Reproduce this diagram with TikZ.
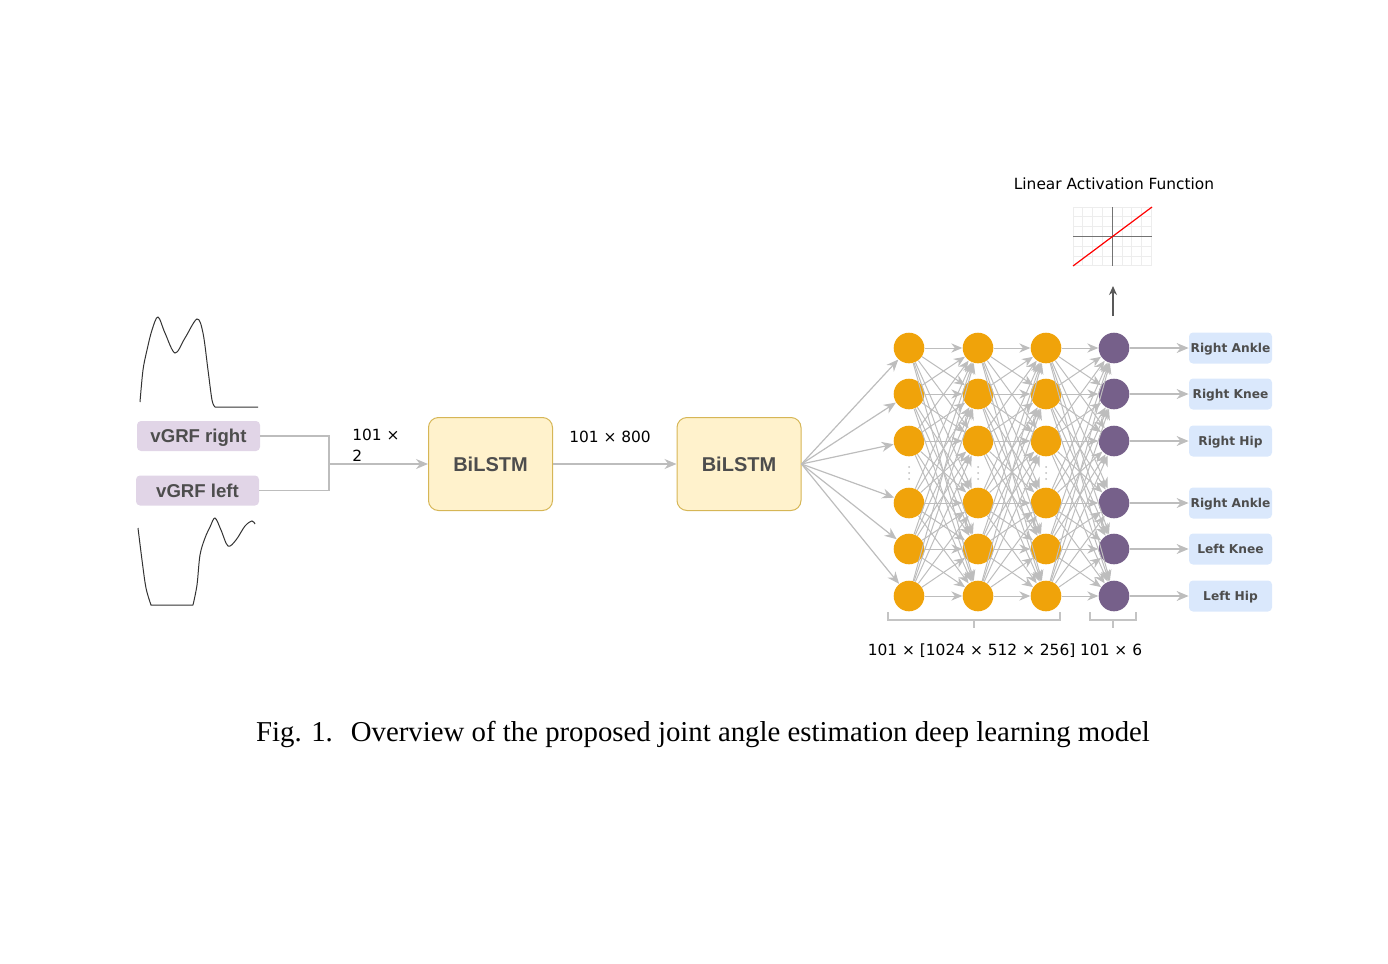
\documentclass[tikz,border=0pt]{standalone}
\usepackage{fontspec}
\setmainfont{DejaVu Sans}
\newfontfamily\arialb{Liberation Sans}
\newfontfamily\capfont{Liberation Serif}
\usetikzlibrary{arrows.meta}
\definecolor{vgrf}{HTML}{E1D5E7}
\definecolor{txtg}{HTML}{4D4D4D}
\definecolor{lstmf}{HTML}{FFF2CC}
\definecolor{lstmd}{HTML}{D6B656}
\definecolor{orng}{HTML}{F0A30A}
\definecolor{purp}{HTML}{76608A}
\definecolor{outf}{HTML}{DAE8FC}
\definecolor{lineg}{HTML}{BDBDBD}
\definecolor{brk}{HTML}{C4C4C4}
\definecolor{gridg}{HTML}{EDEDED}
\tikzset{
  inbox/.style={fill=vgrf, rounded corners=2pt, minimum width=61.5pt, minimum height=15pt, inner sep=0pt, text=txtg, font=\arialb\bfseries\fontsize{9.3}{10}\selectfont, text height=6.7pt, text depth=0pt},
  lstm/.style={fill=lstmf, draw=lstmd, line width=0.5pt, rounded corners=5pt, minimum width=62pt, minimum height=46.5pt, inner sep=0pt, text=txtg, font=\arialb\bfseries\fontsize{10}{11}\selectfont, text height=7.2pt, text depth=0pt},
  neuron/.style={circle, fill=orng, minimum size=15.3pt, inner sep=0pt},
  oneuron/.style={circle, fill=purp, minimum size=15.3pt, inner sep=0pt},
  outbox/.style={fill=outf, rounded corners=2pt, minimum width=41.5pt, minimum height=15.5pt, inner sep=0pt, text=txtg, font=\bfseries\fontsize{6.1}{7}\selectfont, text height=4.45pt, text depth=0pt},
  conn/.style={draw=lineg, line width=0.6pt},
  arr/.style={conn, -{Stealth[length=6pt,width=5pt]}},
  mesh/.style={draw=lineg, line width=0.5pt, -{Stealth[length=5.5pt,width=4.6pt]}},
  lbl/.style={font=\fontsize{7.7}{10}\selectfont, inner sep=0pt},
  wave/.style={draw=black!80, line width=0.5pt},
  bracket/.style={draw=brk, line width=1pt},
}
\begin{document}
\begin{tikzpicture}[x=0.5pt,y=-0.5pt]
\useasboundingbox (0,0) rectangle (1388,964);

% waveforms
\draw[wave] plot[smooth, tension=0.55] coordinates {(140,402) (143,370) (147,350) (152,330) (158,317) (165,333) (175,353) (185,338) (197,319) (203,333) (208,370) (212,400) (215,407)} -- (258,407);
\draw[wave] plot[smooth, tension=0.55] coordinates {(138,528) (142,560) (146,588) (151,605)} -- (193,605) plot[smooth, tension=0.55] coordinates {(193,605) (197,585) (200,555) (205,538) (210,527) (215,518) (221,530) (228,546) (236,540) (245,526) (252,521) (255,524)};

% input nodes
\node[inbox] (vr) at (198.5,436) {vGRF right};
\node[inbox] (vl) at (197.5,490.5) {vGRF left};
\coordinate (j) at (329,464);
\draw[conn] (vr.east) -| (j);
\draw[conn] (vl.east) -| (j);

\node[lstm] (b1) at (490.5,464) {BiLSTM};
\node[lstm] (b2) at (739,464) {BiLSTM};
\draw[arr] (j) -- (b1.west);
\draw[arr] (b1.east) -- (b2.west);
\node[lbl, anchor=north west, align=left, font=\fontsize{7.7}{10.5}\selectfont] (l1) at (352,429) {101 ×\\2};
\node[lbl] (l2) at (610,437) {101 × 800};

% neurons
\foreach \i/\y in {1/348,2/394,3/441,4/503,5/549,6/596}{
  \node[neuron] (n1-\i) at (909,\y) {};
  \node[neuron] (n2-\i) at (978,\y) {};
  \node[neuron] (n3-\i) at (1046,\y) {};
  \node[oneuron] (n4-\i) at (1114,\y) {};
}
\foreach \x in {909,978,1046}{
  \foreach \y in {467,473,479} \fill[lineg] (\x,\y) circle (0.5pt);
}
\foreach \i in {1,...,6} \draw[arr] (b2.east) -- (n1-\i);
\foreach \c/\n in {1/2,2/3,3/4}{
  \foreach \i in {1,...,6}{
    \foreach \k in {1,...,6}{
      \draw[mesh] (n\c-\i) -- (n\n-\k);
    }
  }
}

% outputs
\foreach \i/\y/\t in {1/348/Right Ankle,2/394/Right Knee,3/441/Right Hip,4/503/Right Ankle,5/549/Left Knee,6/596/Left Hip}{
  \node[outbox] (o\i) at (1230.5,\y) {\t};
  \draw[arr] (n4-\i) -- (o\i);
}

% activation graph
\foreach \x in {1073,1082.8,...,1152} \draw[gridg, line width=0.4pt] (\x,207) -- (\x,266);
\foreach \y in {207,216.8,...,266} \draw[gridg, line width=0.4pt] (1073,\y) -- (1152,\y);
\draw[black!55, line width=0.5pt] (1112,207) -- (1112,266);
\draw[black!55, line width=0.5pt] (1073,236) -- (1152,236);
\draw[red, line width=0.6pt] (1073,266) -- (1152,207);
\node[lbl] (act) at (1114,184) {Linear Activation Function};
\coordinate (ua) at (1113,316);
\coordinate (ub) at (1113,286);
\draw[draw=black!65, line width=0.6pt, -{Stealth[length=4.5pt,width=4pt]}] (ua) -- (ub);

% brackets
\draw[bracket] (888,612) -- (888,620) -- (1060,620) -- (1060,612);
\draw[bracket] (974,620) -- (974,628);
\draw[bracket] (1090,612) -- (1090,620) -- (1136,620) -- (1136,612);
\draw[bracket] (1113,620) -- (1113,628);
\node[lbl] (dims) at (1005,651) {101 × [1024 × 512 × 256] 101 × 6};

% caption
\node[font=\capfont\fontsize{14.4}{16}\selectfont, inner sep=0pt] (cap) at (703,734) {Fig. 1.\hspace{9pt}Overview of the proposed joint angle estimation deep learning model};
\end{tikzpicture}
\end{document}
